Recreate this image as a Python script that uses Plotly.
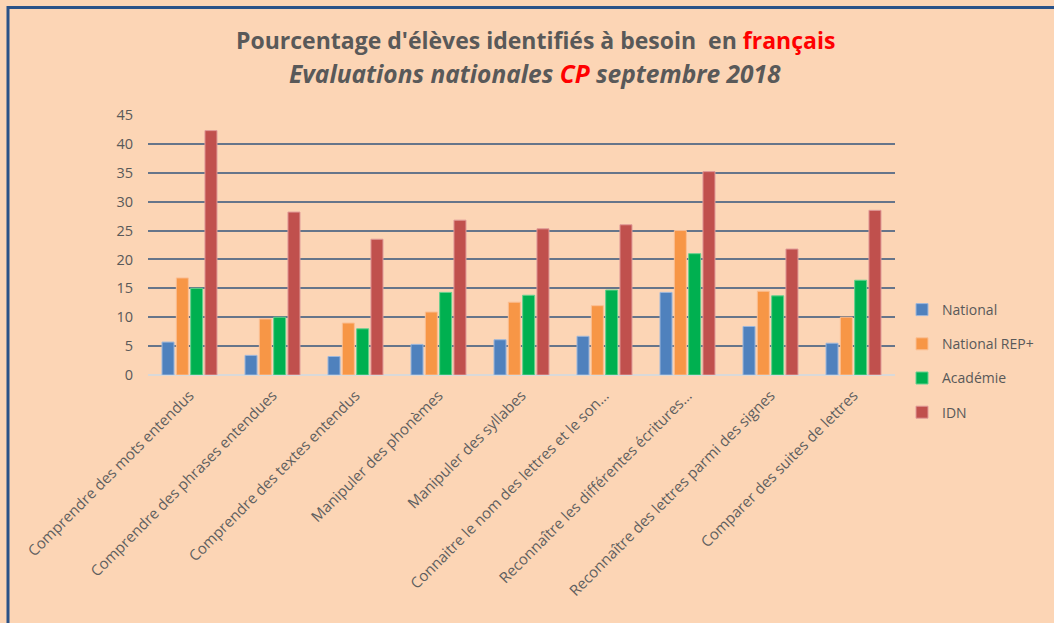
import plotly.graph_objects as go

categories = [
    "Comprendre des mots entendus",
    "Comprendre des phrases entendues",
    "Comprendre des textes entendus",
    "Manipuler des phonèmes",
    "Manipuler des syllabes",
    "Connaitre le nom des lettres et le son…",
    "Reconnaître les différentes écritures…",
    "Reconnaître des lettres parmi des signes",
    "Comparer des suites de lettres",
]
national = [5.7, 3.4, 3.2, 5.3, 6.1, 6.7, 14.3, 8.4, 5.5]
national_rep = [16.8, 9.7, 9.0, 10.9, 12.6, 12.0, 25.0, 14.5, 10.0]
academie = [15.0, 10.0, 8.0, 14.3, 13.8, 14.7, 21.0, 13.7, 16.4]
idn = [42.3, 28.2, 23.5, 26.8, 25.3, 26.0, 35.2, 21.8, 28.5]
series_names = ["National", "National REP+", "Académie", "IDN"]
colors = ["#4F81BD", "#F79646", "#00B050", "#C0504D"]
edge_colors = ["#9DB7DB", "#FBBE92", "#66D08F", "#E09A98"]
y_ticks = [0, 5, 10, 15, 20, 25, 30, 35, 40, 45]

BG = "#FCD5B5"
W, H = 1054, 623
L, R, T, B = 148, 159, 115, 248

def px_x(p):
    return (p - L) / (W - L - R)

def px_y(p):
    return (H - B - p) / (H - B - T)

fig = go.Figure()
for name, vals, c, ec in zip(series_names, [national, national_rep, academie, idn], colors, edge_colors):
    fig.add_trace(go.Bar(
        x=categories, y=vals, name=name, legendgroup=name,
        marker=dict(color=c, line=dict(color=ec, width=1)),
    ))

fig.update_layout(
    width=W, height=H,
    margin=dict(l=L, r=R, t=T, b=B, autoexpand=False),
    paper_bgcolor=BG, plot_bgcolor=BG,
    barmode="group", bargap=0.31, bargroupgap=0.16,
    font=dict(family="Open Sans, sans-serif", color="#595959", size=14),
    showlegend=True,
    legend=dict(
        x=px_x(902), y=px_y(294),
        xanchor="left", yanchor="top", bgcolor="rgba(0,0,0,0)",
        font=dict(size=14, color="#595959"), tracegroupgap=13,
        itemwidth=30,
    ),
)

fig.update_yaxes(
    range=[0, 45], tickvals=y_ticks, showgrid=True, gridcolor="#66758A", gridwidth=2,
    zeroline=True, zerolinecolor="#D9D9D9", zerolinewidth=2,
    showline=False, ticks="", ticklabelstandoff=14,
    tickfont=dict(size=14.5, color="#595959"),
)
fig.update_xaxes(
    tickangle=-45, showline=False, ticks="", ticklabelstandoff=8,
    tickfont=dict(size=15, color="#5F5F5F"),
)

fig.add_annotation(
    xref="paper", yref="paper", x=px_x(535), y=px_y(40), xanchor="center", yanchor="middle",
    text="<b>Pourcentage d'élèves identifiés à besoin  en <span style='color:#FF0000'>français</span></b>",
    showarrow=False, font=dict(size=23, color="#595959"),
)
fig.add_annotation(
    xref="paper", yref="paper", x=px_x(535), y=px_y(74), xanchor="center", yanchor="middle",
    text="<b><i>Evaluations nationales <span style='color:#FF0000'>CP</span> septembre 2018</i></b>",
    showarrow=False, font=dict(size=24.5, color="#595959"),
)

# chart border (top and left edges visible)
fig.add_shape(type="line", xref="paper", yref="paper",
              x0=px_x(8), y0=px_y(7.5), x1=px_x(W + 5), y1=px_y(7.5),
              line=dict(color="#2A5288", width=3))
fig.add_shape(type="line", xref="paper", yref="paper",
              x0=px_x(8), y0=px_y(6), x1=px_x(8), y1=px_y(H + 5),
              line=dict(color="#2A5288", width=3))

fig.write_html(
    "out.html",
    config={"displayModeBar": False},
    post_script="document.body.style.margin='0';document.body.style.overflow='hidden';",
)
